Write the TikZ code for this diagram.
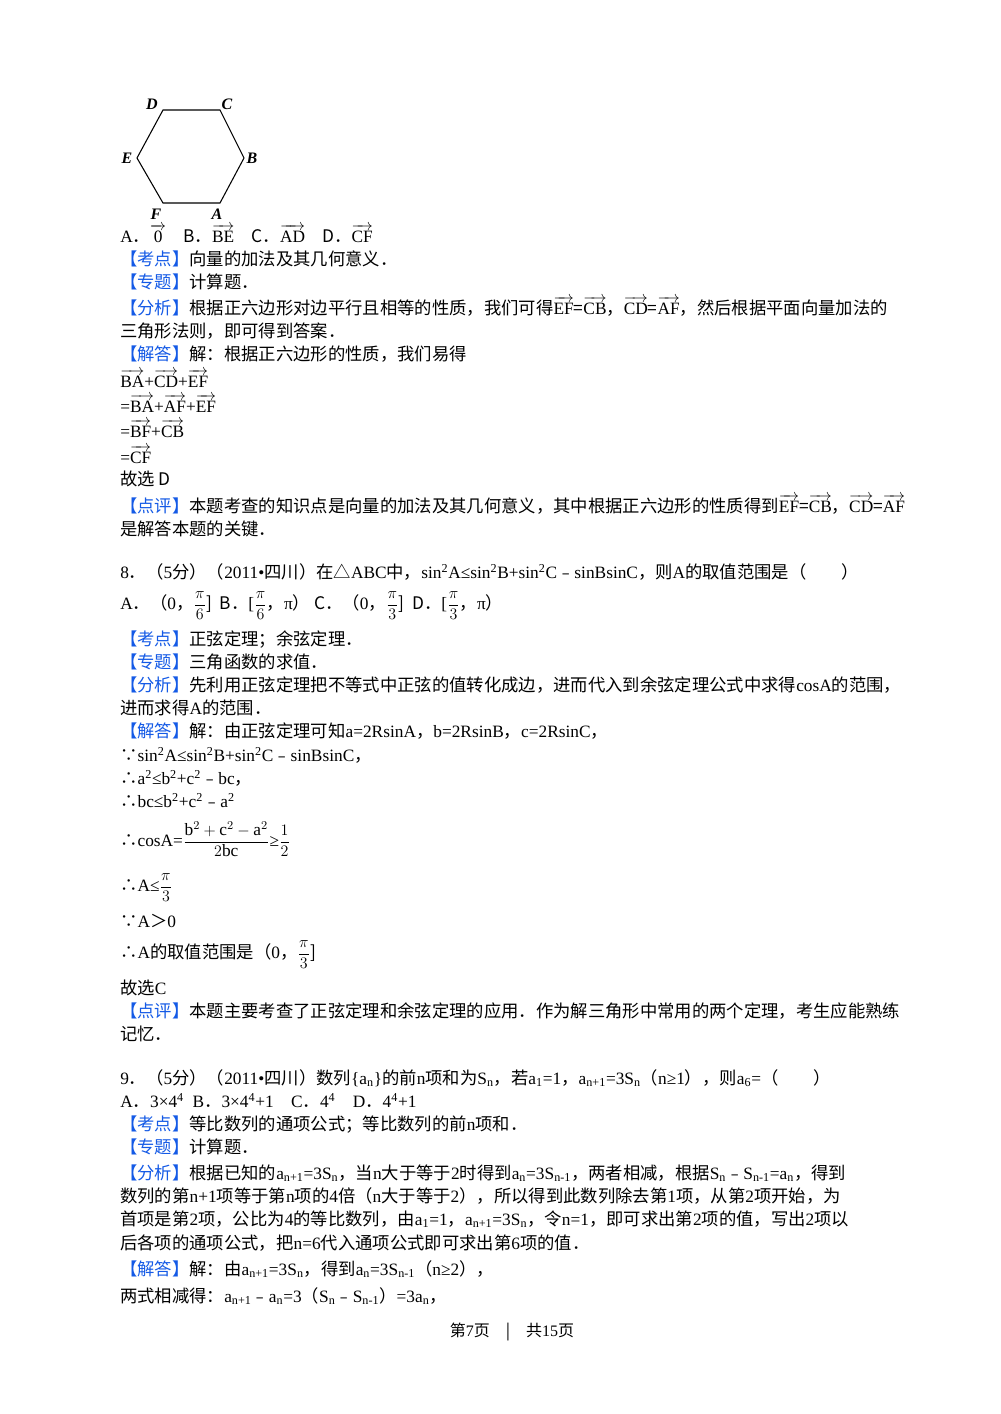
\documentclass[tikz,border=0pt]{standalone}
\usepackage{amsmath}
\usepackage{fontspec}
\setmainfont{Liberation Serif}
\newfontfamily\cjk{Noto Sans CJK SC}
\newfontfamily\latf{Liberation Serif}
\newXeTeXintercharclass\cjkclass
\newcount\cc
\def\setrange#1#2{\cc=#1 \loop\XeTeXcharclass\cc=\cjkclass \advance\cc 1 \ifnum\cc<#2 \repeat}
\setrange{"4E00}{"A000}
\setrange{"3000}{"3040}
\setrange{"FF00}{"FFF0}
\setrange{"FE30}{"FE70}
\XeTeXcharclass"2234=\cjkclass
\XeTeXcharclass"2235=\cjkclass
\XeTeXcharclass"25B3=\cjkclass
\XeTeXinterchartoks 0 \cjkclass = {\cjk}
\XeTeXinterchartoks 4095 \cjkclass = {\cjk}
\XeTeXinterchartoks \cjkclass 0 = {\latf}
\XeTeXinterchartokenstate=1
\definecolor{tagblue}{RGB}{20,90,230}
\newcommand\kd[1]{\textcolor{tagblue}{【#1】}}
\newcommand\vv[1]{$\overrightarrow{\mathrm{#1}}$}
\newcommand\dn[1]{\textsubscript{#1}}
\newcommand\up[1]{\textsuperscript{#1}}
\tikzset{t/.style={anchor=base west,inner sep=0,font=\fontsize{13}{15}\selectfont}}
\begin{document}
\begin{tikzpicture}[x=0.75pt,y=-0.75pt]
\path[use as bounding box,fill=white] (0,0) rectangle (1000,1414);
% hexagon
\coordinate (A) at (220,203); \coordinate (B) at (244,158); \coordinate (C) at (220,110);
\coordinate (D) at (163,110); \coordinate (E) at (137,158); \coordinate (F) at (163,203);
\draw[line width=0.8pt] (A)--(B)--(C)--(D)--(E)--(F)--cycle;
\foreach \n/\p in {D/{152,104},C/{227,104},E/{127,158},B/{252,158},F/{156,214},A/{217,214}}
  \node[font=\fontsize{12}{14}\selectfont\itshape\bfseries,inner sep=0] (l\n) at (\p) {\n};
\node[t] (o7) at (120,242) {A．\vv{0}\quad B．\vv{BE}\quad C．\vv{AD}\quad D．\vv{CF}};
\node[t] (k7) at (120,265) {\kd{考点}向量的加法及其几何意义．};
\node[t] (z7) at (120,288) {\kd{专题}计算题．};
\node[t] (f7a) at (120,314) {\kd{分析}根据正六边形对边平行且相等的性质，我们可得\vv{EF}=\vv{CB}，\vv{CD}=\vv{AF}，然后根据平面向量加法的};
\node[t] (f7b) at (120,337) {三角形法则，即可得到答案．};
\node[t] (j7) at (120,360) {\kd{解答}解：根据正六边形的性质，我们易得};
\node[t] (e1) at (120,387) {\vv{BA}+\vv{CD}+\vv{EF}};
\node[t] (e2) at (120,412) {=\vv{BA}+\vv{AF}+\vv{EF}};
\node[t] (e3) at (120,437) {=\vv{BF}+\vv{CB}};
\node[t] (e4) at (120,463) {=\vv{CF}};
\node[t] (g7) at (120,485) {故选 D};
\node[t] (p7a) at (120,512) {\kd{点评}本题考查的知识点是向量的加法及其几何意义，其中根据正六边形的性质得到\vv{EF}=\vv{CB}，\vv{CD}=\vv{AF}};
\node[t] (p7b) at (120,535) {是解答本题的关键．};
% Q8
\node[t] (q8) at (120,578) {8．（5分）（2011•四川）在△ABC中，sin\up{2}A≤sin\up{2}B+sin\up{2}C﹣sinBsinC，则A的取值范围是（\quad\quad）};
\node[t] (o8) at (120,609) {A．（0，$\dfrac{\pi}{6}$]\ \ B．[$\dfrac{\pi}{6}$，π）\ C．（0，$\dfrac{\pi}{3}$]\ \ D．[$\dfrac{\pi}{3}$，π）};
\node[t] (k8) at (120,645) {\kd{考点}正弦定理；余弦定理．};
\node[t] (z8) at (120,668) {\kd{专题}三角函数的求值．};
\node[t] (f8a) at (120,691) {\kd{分析}先利用正弦定理把不等式中正弦的值转化成边，进而代入到余弦定理公式中求得cosA的范围，};
\node[t] (f8b) at (120,714) {进而求得A的范围．};
\node[t] (j8) at (120,737) {\kd{解答}解：由正弦定理可知a=2RsinA，b=2RsinB，c=2RsinC，};
\node[t] (s1) at (120,761) {∵sin\up{2}A≤sin\up{2}B+sin\up{2}C﹣sinBsinC，};
\node[t] (s2) at (120,784) {∴a\up{2}≤b\up{2}+c\up{2}﹣bc，};
\node[t] (s3) at (120,807) {∴bc≤b\up{2}+c\up{2}﹣a\up{2}};
\node[t] (s4) at (120,846) {∴cosA=$\dfrac{\mathrm{b}^2+\mathrm{c}^2-\mathrm{a}^2}{2\mathrm{bc}}$≥$\dfrac{1}{2}$};
\node[t] (s5) at (120,891) {∴A≤$\dfrac{\pi}{3}$};
\node[t] (s6) at (120,927) {∵A＞0};
\node[t] (s7) at (120,958) {∴A的取值范围是（0，$\dfrac{\pi}{3}$]};
\node[t] (g8) at (120,994) {故选C};
\node[t] (p8a) at (120,1017) {\kd{点评}本题主要考查了正弦定理和余弦定理的应用．作为解三角形中常用的两个定理，考生应能熟练};
\node[t] (p8b) at (120,1040) {记忆．};
% Q9
\node[t] (q9) at (120,1084) {9．（5分）（2011•四川）数列\{a\dn{n}\}的前n项和为S\dn{n}，若a\dn{1}=1，a\dn{n+1}=3S\dn{n}（n≥1），则a\dn{6}=（\quad\quad）};
\node[t] (o9) at (120,1107) {A．3×4\up{4}\ \ B．3×4\up{4}+1\quad C．4\up{4}\quad D．4\up{4}+1};
\node[t] (k9) at (120,1130) {\kd{考点}等比数列的通项公式；等比数列的前n项和．};
\node[t] (z9) at (120,1153) {\kd{专题}计算题．};
\node[t] (f9a) at (120,1179) {\kd{分析}根据已知的a\dn{n+1}=3S\dn{n}，当n大于等于2时得到a\dn{n}=3S\dn{n-1}，两者相减，根据S\dn{n}﹣S\dn{n-1}=a\dn{n}，得到};
\node[t] (f9b) at (120,1202) {数列的第n+1项等于第n项的4倍（n大于等于2），所以得到此数列除去第1项，从第2项开始，为};
\node[t] (f9c) at (120,1225) {首项是第2项，公比为4的等比数列，由a\dn{1}=1，a\dn{n+1}=3S\dn{n}，令n=1，即可求出第2项的值，写出2项以};
\node[t] (f9d) at (120,1249) {后各项的通项公式，把n=6代入通项公式即可求出第6项的值．};
\node[t] (j9) at (120,1275) {\kd{解答}解：由a\dn{n+1}=3S\dn{n}，得到a\dn{n}=3S\dn{n-1}（n≥2），};
\node[t] (j9b) at (120,1302) {两式相减得：a\dn{n+1}﹣a\dn{n}=3（S\dn{n}﹣S\dn{n-1}）=3a\dn{n}，};
\node[font=\fontsize{12}{14}\selectfont,inner sep=0] (ft) at (512,1332) {第7页\quad{}|\quad{}共15页};
\end{tikzpicture}
\end{document}
